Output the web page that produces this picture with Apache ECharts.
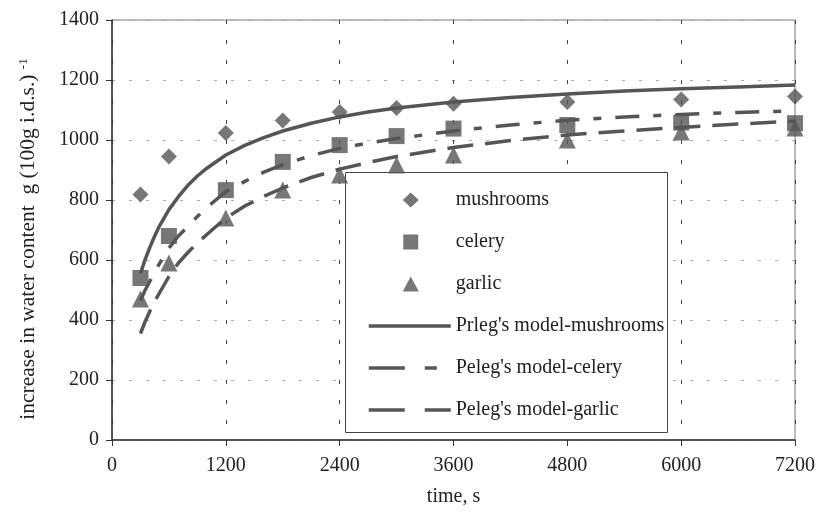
<!DOCTYPE html>
<html>
<head>
<meta charset="utf-8">
<script src="https://cdn.jsdelivr.net/npm/echarts@6/dist/echarts.min.js"></script>
<style>
html,body{margin:0;padding:0;background:#fff;}
#chart{width:818px;height:520px;}
</style>
</head>
<body>
<div id="chart"></div>
<script>
// Measured data (time in s, increase in water content g/100g i.d.s.)
const times = [300, 600, 1200, 1800, 2400, 3000, 3600, 4800, 6000, 7200];
const mushrooms = [818, 945, 1023, 1065, 1093, 1107, 1121, 1127, 1135, 1145];
const celery    = [540, 680, 833, 927, 983, 1013, 1038, 1050, 1058, 1056];
const garlic    = [470, 590, 740, 833, 883, 917, 950, 1000, 1027, 1040];

// Model curves at these times
const modelTimes    = [300, 350, 400, 450, 500, 600, 700, 800, 900, 1000, 1200, 1400, 1600, 1800, 2100, 2400, 2700, 3000, 3600, 4200, 4800, 5400, 6000, 6600, 7200];
const mushroomModel = [555, 602, 643, 680, 713, 768, 811, 849, 880, 906, 950, 982, 1008, 1030, 1056, 1077, 1093, 1107, 1127, 1142, 1153, 1163, 1171, 1177, 1183];
const celeryModel   = [465, 500, 530, 560, 588, 640, 680, 712, 745, 775, 828, 862, 893, 918, 948, 972, 990, 1005, 1030, 1050, 1066, 1077, 1085, 1092, 1097];
const garlicModel   = [355, 395, 430, 462, 490, 545, 590, 625, 657, 685, 740, 780, 812, 840, 875, 903, 925, 945, 975, 998, 1017, 1030, 1042, 1053, 1063];

const xTicks = [0, 1200, 2400, 3600, 4800, 6000, 7200];
const yTicks = [0, 200, 400, 600, 800, 1000, 1200, 1400];

const names = ['mushrooms', 'celery', 'garlic', "Prleg's model-mushrooms", "Peleg's model-celery", "Peleg's model-garlic"];

const pair = (xs, ys) => xs.map((x, i) => [x, ys[i]]);
const serif = 'Liberation Serif';
const markColor = '#555';
const txt = '#222';

// legend marker icons: shape plus invisible move-to points that widen the box to the line icons' width
const iconDiamond  = 'path://M-34,0 M48,15 M0,7.5 L8,0 L16,7.5 L8,15 Z';
const iconSquare   = 'path://M-34,0 M48,15 M0.5,0 L15.5,0 L15.5,15 L0.5,15 Z';
const iconTriangle = 'path://M-34,0 M48,15 M8,0 L16,15 L0,15 Z';

const chart = echarts.init(document.getElementById('chart'), null, {renderer: 'canvas'});
chart.setOption({
  backgroundColor: '#fff',
  animation: false,
  grid: {left: 112, right: 23, top: 20, bottom: 80, show: true, borderColor: '#777', borderWidth: 1, backgroundColor: 'transparent'},
  xAxis: {
    type: 'value', min: xTicks[0], max: xTicks[xTicks.length - 1], interval: 1200,
    name: 'time, s', nameLocation: 'middle', nameGap: 47,
    nameTextStyle: {fontFamily: serif, fontSize: 20, color: txt},
    axisLine: {show: true, onZero: false, lineStyle: {color: '#333', width: 1.5}},
    axisTick: {show: true, length: 6, lineStyle: {color: '#333'}},
    axisLabel: {fontFamily: serif, fontSize: 20, color: txt, margin: 16, formatter: v => String(v)},
    splitLine: {show: true, lineStyle: {color: '#444', type: [4, 16], width: 1}}
  },
  yAxis: {
    type: 'value', min: yTicks[0], max: yTicks[yTicks.length - 1], interval: 200,
    name: 'increase in water content  g (100g i.d.s.) {sup|-1}',
    nameLocation: 'middle', nameGap: 73,
    nameTextStyle: {fontFamily: serif, fontSize: 21.5, color: txt, padding: [0, 18, 0, 0],
      rich: {sup: {fontFamily: serif, fontSize: 13, color: txt, verticalAlign: 'top', padding: [0, 0, 8, 0]}}},
    axisLine: {show: true, lineStyle: {color: '#333', width: 1.5}},
    axisTick: {show: true, length: 6, lineStyle: {color: '#333'}},
    axisLabel: {fontFamily: serif, fontSize: 20, color: txt, margin: 13, formatter: v => String(v)},
    splitLine: {show: true, lineStyle: {color: '#aaa', type: [3, 14], width: 1}}
  },
  graphic: {
    elements: [{
      type: 'rect', z: 1, silent: true,
      shape: {x: 345.5, y: 172.5, width: 322, height: 260},
      style: {fill: '#fff', stroke: '#444', lineWidth: 1}
    }]
  },
  legend: {
    orient: 'vertical', left: 367, top: 189, padding: 0,
    itemWidth: 82, itemHeight: 15, itemGap: 20,
    textStyle: {fontFamily: serif, fontSize: 20, color: txt, lineHeight: 22},
    data: [
      {name: names[0], icon: iconDiamond},
      {name: names[1], icon: iconSquare},
      {name: names[2], icon: iconTriangle},
      {name: names[3], itemStyle: {opacity: 0}, lineStyle: {type: 'solid', width: 3.5, color: markColor}},
      {name: names[4], itemStyle: {opacity: 0}, lineStyle: {type: [36, 20, 12, 100], width: 3.5, color: markColor}},
      {name: names[5], itemStyle: {opacity: 0}, lineStyle: {type: [36, 20, 30, 100], width: 3.5, color: markColor}}
    ]
  },
  series: [
    {name: names[3], type: 'line', data: pair(modelTimes, mushroomModel), symbol: 'none',
     lineStyle: {color: markColor, width: 3.5}, itemStyle: {color: markColor}, z: 3},
    {name: names[4], type: 'line', data: pair(modelTimes, celeryModel), symbol: 'none',
     lineStyle: {color: markColor, width: 3.5, type: [24, 14, 8, 14]}, itemStyle: {color: markColor}, z: 3},
    {name: names[5], type: 'line', data: pair(modelTimes, garlicModel), symbol: 'none',
     lineStyle: {color: markColor, width: 3.5, type: [26, 12]}, itemStyle: {color: markColor}, z: 3},
    {name: names[0], type: 'scatter', data: pair(times, mushrooms), symbol: 'diamond', symbolSize: 16,
     itemStyle: {color: markColor}, z: 4},
    {name: names[1], type: 'scatter', data: pair(times, celery), symbol: 'rect', symbolSize: 16,
     itemStyle: {color: markColor}, z: 4},
    {name: names[2], type: 'scatter', data: pair(times, garlic), symbol: 'triangle', symbolSize: 17,
     itemStyle: {color: markColor}, z: 4}
  ]
});
</script>
</body>
</html>
